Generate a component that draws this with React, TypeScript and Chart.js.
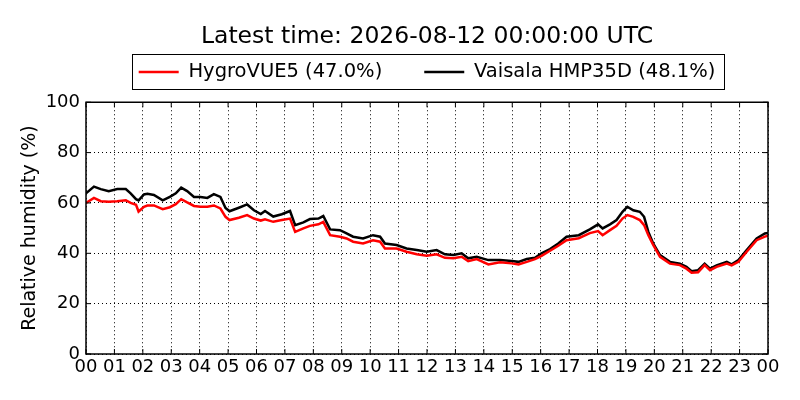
import { useEffect, useRef } from 'react'
import { Chart, registerables, type Plugin } from 'chart.js'

Chart.register(...registerables)

const TITLE = 'Latest time: 2026-08-12 00:00:00 UTC'
const Y_TITLE = 'Relative humidity (%)'
const HYGRO_LABEL = 'HygroVUE5 (47.0%)'
const VAISALA_LABEL = 'Vaisala HMP35D (48.1%)'

// hours since 00 UTC
const HOURS = [
  0.0, 0.28, 0.52, 0.8, 1.1, 1.4, 1.57, 1.76, 1.85, 2.04, 2.16, 2.39, 2.7, 2.95, 3.16, 3.35, 3.56,
  3.8, 4.03, 4.27, 4.5, 4.73, 4.91, 5.05, 5.38, 5.67, 5.91, 6.15, 6.3, 6.59, 6.89, 7.18, 7.36,
  7.65, 7.88, 8.18, 8.35, 8.59, 8.94, 9.17, 9.4, 9.75, 10.1, 10.35, 10.52, 10.93, 11.28, 11.64,
  11.99, 12.34, 12.63, 12.93, 13.22, 13.45, 13.75, 14.16, 14.57, 14.98, 15.22, 15.51, 15.8, 16.03,
  16.33, 16.62, 16.91, 17.34, 17.73, 18.02, 18.18, 18.44, 18.67, 18.88, 19.05, 19.26, 19.49, 19.64,
  19.79, 19.96, 20.2, 20.55, 20.9, 21.13, 21.31, 21.54, 21.77, 21.96, 22.19, 22.55, 22.72, 22.96,
  23.25, 23.6, 23.89, 24.0,
]

const HYGROVUE = [
  60.0, 62.0, 60.7, 60.5, 60.7, 61.1, 60.0, 59.3, 56.6, 58.5, 59.0, 59.0, 57.5, 58.3, 59.5, 61.5,
  60.2, 58.8, 58.5, 58.5, 59.0, 57.8, 54.5, 53.2, 54.1, 55.2, 53.8, 53.0, 53.5, 52.5, 53.2, 53.8,
  48.5, 49.9, 50.9, 51.5, 52.5, 47.2, 46.6, 45.9, 44.6, 43.9, 45.2, 44.6, 41.9, 41.9, 40.6, 39.6,
  39.0, 39.6, 38.2, 38.0, 38.6, 36.9, 37.7, 35.6, 36.4, 36.0, 35.6, 36.6, 37.7, 39.0, 41.0, 43.0,
  45.2, 46.0, 48.0, 48.8, 47.2, 49.2, 50.9, 53.8, 55.2, 54.5, 53.2, 51.2, 47.2, 43.3, 38.6, 35.9,
  35.3, 33.9, 32.3, 32.5, 35.3, 33.3, 34.6, 35.9, 35.2, 36.6, 40.6, 45.2, 46.6, 47.0,
]

const VAISALA = [
  63.8, 66.5, 65.5, 64.7, 65.5, 65.5, 63.8, 61.5, 61.0, 63.4, 63.6, 63.2, 61.0, 62.4, 63.8, 66.1,
  64.7, 62.4, 62.4, 62.0, 63.5, 62.4, 58.0, 56.7, 58.1, 59.4, 57.1, 55.6, 56.8, 54.6, 55.5, 56.8,
  51.2, 52.3, 53.6, 53.8, 54.8, 49.5, 49.2, 47.9, 46.6, 45.9, 47.2, 46.6, 43.9, 43.3, 41.9, 41.3,
  40.6, 41.3, 39.6, 39.3, 40.0, 38.0, 38.6, 37.3, 37.3, 36.9, 36.6, 37.7, 38.2, 40.0, 41.7, 43.9,
  46.6, 47.2, 49.5, 51.5, 49.9, 51.5, 53.2, 56.5, 58.5, 57.1, 56.5, 54.5, 48.5, 43.9, 39.3, 36.6,
  35.9, 34.6, 32.9, 33.3, 35.9, 33.9, 35.2, 36.6, 35.6, 37.3, 41.3, 45.9, 47.9, 48.1,
]

const FONT = "'DejaVu Sans', sans-serif"

// matplotlib-ish frame: closed box, inward ticks, bordered legend
const framePlugin: Plugin<'line'> = {
  id: 'frame',
  afterDraw(chart) {
    const { ctx, chartArea: a, scales } = chart
    ctx.save()
    ctx.strokeStyle = '#000'
    ctx.lineWidth = 1.5
    ctx.strokeRect(a.left, a.top, a.right - a.left, a.bottom - a.top)

    ctx.lineWidth = 1
    ctx.beginPath()
    scales.x.ticks.forEach((t) => {
      const px = scales.x.getPixelForValue(t.value)
      ctx.moveTo(px, a.bottom)
      ctx.lineTo(px, a.bottom - 5)
      ctx.moveTo(px, a.top)
      ctx.lineTo(px, a.top + 5)
    })
    scales.y.ticks.forEach((t) => {
      const py = scales.y.getPixelForValue(t.value)
      ctx.moveTo(a.left, py)
      ctx.lineTo(a.left + 5, py)
      ctx.moveTo(a.right, py)
      ctx.lineTo(a.right - 5, py)
    })
    ctx.stroke()

    const boxes = (chart.legend as any)?.legendHitBoxes as
      | { left: number; top: number; width: number; height: number }[]
      | undefined
    if (boxes && boxes.length) {
      const l = Math.min(...boxes.map((b) => b.left)) - 7
      const r = Math.max(...boxes.map((b) => b.left + b.width)) + 8
      const t = Math.min(...boxes.map((b) => b.top)) - 8
      const bt = Math.max(...boxes.map((b) => b.top + b.height)) + 7.5
      ctx.lineWidth = 1
      ctx.strokeRect(Math.round(l) + 0.5, Math.round(t) + 0.5, Math.round(r - l), Math.round(bt - t))
    }
    ctx.restore()
  },
}

export default function App() {
  const canvasRef = useRef<HTMLCanvasElement>(null)

  useEffect(() => {
    if (!canvasRef.current) return

    const chart = new Chart(canvasRef.current, {
      type: 'line',
      data: {
        datasets: [
          {
            label: HYGRO_LABEL,
            data: HOURS.map((h, i) => ({ x: h, y: HYGROVUE[i] })),
            borderColor: '#ff0000',
            backgroundColor: '#ff0000',
            borderWidth: 2.5,
            pointRadius: 0,
            pointStyle: 'line',
            tension: 0,
          },
          {
            label: VAISALA_LABEL,
            data: HOURS.map((h, i) => ({ x: h, y: VAISALA[i] })),
            borderColor: '#000000',
            backgroundColor: '#000000',
            borderWidth: 2.5,
            pointRadius: 0,
            pointStyle: 'line',
            tension: 0,
          },
        ],
      },
      options: {
        responsive: true,
        maintainAspectRatio: false,
        animation: false,
        layout: { padding: { left: 0, right: 32, top: 0, bottom: 0 } },
        plugins: {
          title: {
            display: true,
            fullSize: false,
            text: TITLE,
            color: '#000',
            font: { family: FONT, size: 23.5, weight: 'normal' },
            // legend items need a wide gap, so let the legend box reach up under the title
            padding: { top: 23, bottom: -30.95 },
          },
          legend: {
            display: true,
            fullSize: false,
            labels: {
              color: '#000',
              font: { family: FONT, size: 19.5 },
              usePointStyle: true,
              pointStyleWidth: 40,
              padding: 42,
            },
          },
          tooltip: { enabled: false },
        },
        scales: {
          x: {
            type: 'linear',
            min: 0,
            max: 24,
            afterFit: (s) => {
              s.height = 46
            },
            ticks: {
              stepSize: 1,
              autoSkip: false,
              maxRotation: 0,
              color: '#000',
              padding: 3,
              font: { family: FONT, size: 18 },
              callback: (v) => String(Number(v) % 24).padStart(2, '0'),
            },
            grid: { color: '#000', lineWidth: 1, drawTicks: false },
            border: { display: false, dash: [1, 3] },
          },
          // empty top axis: just the gap between legend and plot
          xTop: {
            type: 'linear',
            position: 'top',
            afterFit: (s) => {
              s.height = 10.5
            },
            ticks: { display: false },
            grid: { display: false },
            border: { display: false },
          },
          y: {
            min: 0,
            max: 100,
            afterFit: (s) => {
              s.width = 86
            },
            ticks: {
              stepSize: 20,
              color: '#000',
              padding: 6,
              font: { family: FONT, size: 18 },
            },
            title: {
              display: true,
              text: Y_TITLE,
              color: '#000',
              font: { family: FONT, size: 19 },
              padding: { top: 19, bottom: 0 },
            },
            grid: { color: '#000', lineWidth: 1, drawTicks: false },
            border: { display: false, dash: [1, 3] },
          },
        },
      },
      plugins: [framePlugin],
    })

    return () => chart.destroy()
  }, [])

  return (
    <div style={{ position: 'fixed', left: 0, top: 0, width: 800, height: 400, background: '#fff' }}>
      <canvas ref={canvasRef} />
    </div>
  )
}
